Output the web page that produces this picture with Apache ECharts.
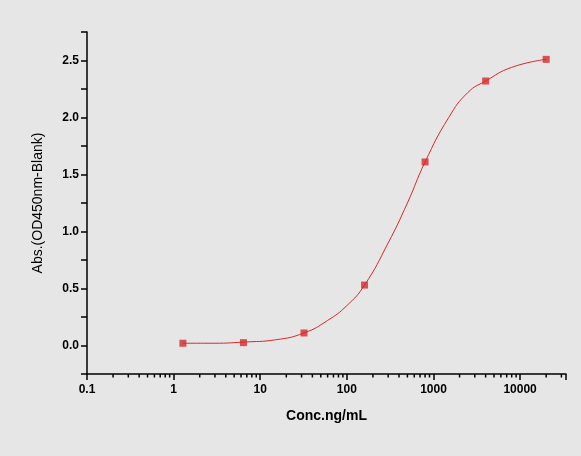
<!DOCTYPE html><html><head><meta charset="utf-8"><script src="https://cdn.jsdelivr.net/npm/echarts@6/dist/echarts.min.js"></script></head><body style="margin:0;background:#e6e6e6"><div id="c" style="width:581px;height:456px"></div><script>
const concPoints=[1.28,6.4,32,160,800,4000,20000];
const absPoints=[0.02,0.025,0.11,0.53,1.61,2.32,2.51];
const curveConc=[1.28,3,6.4,15,32,60,100,160,300,500,800,1500,2500,4000,8000,20000];
const curveAbs=[0.02,0.02,0.03,0.05,0.11,0.22,0.35,0.53,0.9,1.25,1.61,2.0,2.22,2.32,2.44,2.51];
const xTickLabels=['0.1','1','10','100','1000','10000'];
const L=Math.log10;
const minor=[];for(let d=-1;d<4;d++)for(let k=2;k<=9;k++)minor.push(L(k*Math.pow(10,d)));
for(let k=2;k<=3;k++)minor.push(L(k*1e4));
const font='Arial, "Liberation Sans", sans-serif';
const ch=echarts.init(document.getElementById('c'));
ch.setOption({backgroundColor:'#e6e6e6',animation:false,
grid:{left:87,right:15,top:32,bottom:82},
xAxis:{type:'value',min:-1,max:4.53,interval:1,name:'Conc.ng/mL',nameLocation:'middle',nameGap:35,
nameTextStyle:{fontFamily:font,fontWeight:'bold',fontSize:14,color:'#000'},
axisLine:{onZero:false,lineStyle:{color:'#000',width:1.5}},axisTick:{length:6,lineStyle:{color:'#000',width:1.5}},
splitLine:{show:false},
axisLabel:{fontFamily:font,fontWeight:'bold',fontSize:12,color:'#000',margin:10,formatter:v=>{const i=Math.round(v)+1;return Math.abs(v-Math.round(v))<1e-6?xTickLabels[i]:'';}}},
yAxis:{type:'value',min:-0.25,max:2.75,interval:0.25,name:'Abs.(OD450nm-Blank)',nameLocation:'middle',nameGap:42,
nameTextStyle:{fontFamily:font,fontSize:14,color:'#000'},
axisLine:{onZero:false,lineStyle:{color:'#000',width:1.5}},axisTick:{length:6,lineStyle:{color:'#000',width:1.5}},
splitLine:{show:false},
axisLabel:{fontFamily:font,fontWeight:'bold',fontSize:12,color:'#000',formatter:v=>{const q=Math.round(v*4);return (q%2===0&&q>=0)?v.toFixed(1):'';}}},
series:[
{type:'custom',silent:true,clip:false,data:minor.map(v=>[v]),renderItem:(p,api)=>{const pt=api.coord([api.value(0),-0.25]);return{type:'line',shape:{x1:pt[0],y1:pt[1],x2:pt[0],y2:pt[1]+3.5},style:{stroke:'#000',lineWidth:1.5}};}},
{type:'line',smooth:true,symbol:'none',data:curveConc.map((c,i)=>[L(c),curveAbs[i]]),lineStyle:{color:'#d42a2a',width:1}},
{type:'scatter',symbol:'rect',symbolSize:7,data:concPoints.map((c,i)=>[L(c),absPoints[i]]),itemStyle:{color:'#d42a2a'}}
]});
</script></body></html>
